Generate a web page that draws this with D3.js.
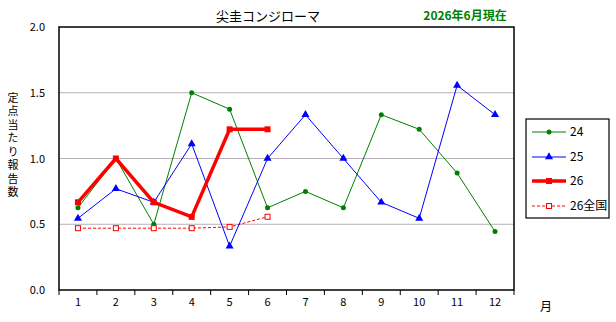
<!DOCTYPE html>
<html>
<head>
<meta charset="utf-8">
<script src="https://cdn.jsdelivr.net/npm/d3@7"></script>
<style>
  body { margin: 0; background: #fff; }
  svg { display: block; font-family: "Noto Sans CJK JP", "DejaVu Sans", sans-serif; }
</style>
</head>
<body>
<div id="chart"></div>
<script>
// data
const months = ["1", "2", "3", "4", "5", "6", "7", "8", "9", "10", "11", "12"];
const yTicks = [0, 0.5, 1.0, 1.5, 2.0];
const s24 = [0.625, 1.0, 0.5, 1.5, 1.375, 0.625, 0.75, 0.625, 1.333, 1.222, 0.889, 0.444];
const s25 = [0.545, 0.77, 0.667, 1.111, 0.333, 1.0, 1.333, 1.0, 0.667, 0.545, 1.556, 1.333];
const s26 = [0.667, 1.0, 0.667, 0.556, 1.222, 1.222];
const s26nat = [0.47, 0.47, 0.47, 0.47, 0.48, 0.557];
const seriesNames = ["24", "25", "26", "26全国"];

const width = 616, height = 322;
const plotL = 59, plotR = 514, plotT = 27, plotB = 290;

const svg = d3.select("#chart").append("svg")
    .attr("width", width)
    .attr("height", height);

const x = d3.scaleBand().domain(months).range([plotL, plotR]);
const y = d3.scaleLinear().domain([0, 2]).range([plotB, plotT]);
const cx = m => x(m) + x.bandwidth() / 2;

// grid lines
svg.append("g")
    .selectAll("line")
    .data(yTicks.filter(d => d > 0 && d < 2))
    .enter().append("line")
    .attr("x1", plotL).attr("x2", plotR)
    .attr("y1", d => y(d)).attr("y2", d => y(d))
    .attr("stroke", "#b8b0b8")
    .attr("stroke-width", 1);

// plot frame
svg.append("rect")
    .attr("x", plotL).attr("y", plotT)
    .attr("width", plotR - plotL).attr("height", plotB - plotT)
    .attr("fill", "none")
    .attr("stroke", "#000")
    .attr("stroke-width", 1.5);

// y axis labels
svg.append("g")
    .selectAll("text")
    .data(yTicks)
    .enter().append("text")
    .attr("x", plotL - 14)
    .attr("y", d => y(d) + 4)
    .attr("text-anchor", "end")
    .attr("font-size", 11)
    .text(d => d.toFixed(1));

// x axis ticks and labels
const xAxis = d3.axisBottom(x).tickSize(0).tickPadding(8);
const gx = svg.append("g").attr("transform", `translate(0,${plotB})`).call(xAxis);
gx.select(".domain").remove();
gx.selectAll("text").attr("font-size", 11).attr("fill", "#000")
    .attr("font-family", "\"Noto Sans CJK JP\", sans-serif");

svg.append("g")
    .selectAll("line")
    .data(d3.range(months.length + 1))
    .enter().append("line")
    .attr("x1", i => plotL + i * x.step()).attr("x2", i => plotL + i * x.step())
    .attr("y1", plotB).attr("y2", plotB + 5)
    .attr("stroke", "#000");

svg.append("text")
    .attr("x", 540).attr("y", 311)
    .attr("font-size", 12)
    .text("月");

// y axis title, vertical
svg.append("text")
    .attr("x", 13)
    .attr("y", 92)
    .style("writing-mode", "vertical-rl")
    .style("text-orientation", "upright")
    .style("letter-spacing", "2.5px")
    .attr("font-size", 11)
    .text("定点当たり報告数");

// titles
svg.append("text")
    .attr("x", 268).attr("y", 21)
    .attr("text-anchor", "middle")
    .attr("font-size", 13)
    .text("尖圭コンジローマ");

svg.append("text")
    .attr("x", 465).attr("y", 20)
    .attr("text-anchor", "middle")
    .attr("font-size", 12)
    .attr("font-weight", "bold")
    .attr("fill", "#008000")
    .text("2026年6月現在");

// lines
const line = d3.line().x((d, i) => cx(months[i])).y(d => y(d));

function drawSeries(data, color, widthPx, dash) {
    svg.append("path")
        .datum(data)
        .attr("d", line)
        .attr("fill", "none")
        .attr("stroke", color)
        .attr("stroke-width", widthPx)
        .attr("stroke-dasharray", dash || null);
}

drawSeries(s26nat, "#ff0000", 1, "3,2");
drawSeries(s24, "#008000", 1);
drawSeries(s25, "#0000ff", 1);
drawSeries(s26, "#ff0000", 3.5);

// markers
const tri = d3.symbol().type(d3.symbolTriangle).size(28);

svg.append("g").selectAll("circle")
    .data(s24).enter().append("circle")
    .attr("cx", (d, i) => cx(months[i])).attr("cy", d => y(d))
    .attr("r", 2.5).attr("fill", "#008000");

svg.append("g").selectAll("path")
    .data(s25).enter().append("path")
    .attr("d", tri)
    .attr("transform", (d, i) => `translate(${cx(months[i])},${y(d)})`)
    .attr("fill", "#0000ff");

svg.append("g").selectAll("rect")
    .data(s26).enter().append("rect")
    .attr("x", (d, i) => cx(months[i]) - 3).attr("y", d => y(d) - 3)
    .attr("width", 6).attr("height", 6)
    .attr("fill", "#ff0000");

svg.append("g").selectAll("rect")
    .data(s26nat).enter().append("rect")
    .attr("x", (d, i) => cx(months[i]) - 2.5).attr("y", d => y(d) - 2.5)
    .attr("width", 5).attr("height", 5)
    .attr("fill", "#fff").attr("stroke", "#ff0000").attr("stroke-width", 1);

// legend
const lg = svg.append("g");
lg.append("rect")
    .attr("x", 526).attr("y", 119)
    .attr("width", 83).attr("height", 99)
    .attr("fill", "#fff").attr("stroke", "#000").attr("stroke-width", 1.2);

const legendY = [132, 157, 181, 206];
const legendStyle = [
    { color: "#008000", w: 1, dash: null },
    { color: "#0000ff", w: 1, dash: null },
    { color: "#ff0000", w: 3.5, dash: null },
    { color: "#ff0000", w: 1, dash: "3,2" }
];

seriesNames.forEach((name, i) => {
    const yy = legendY[i];
    const st = legendStyle[i];
    lg.append("line")
        .attr("x1", 532).attr("x2", 566)
        .attr("y1", yy).attr("y2", yy)
        .attr("stroke", st.color).attr("stroke-width", st.w)
        .attr("stroke-dasharray", st.dash);
    if (i === 0) {
        lg.append("circle").attr("cx", 549).attr("cy", yy).attr("r", 2.5).attr("fill", st.color);
    } else if (i === 1) {
        lg.append("path").attr("d", tri).attr("transform", `translate(549,${yy})`).attr("fill", st.color);
    } else if (i === 2) {
        lg.append("rect").attr("x", 546).attr("y", yy - 3).attr("width", 6).attr("height", 6).attr("fill", st.color);
    } else {
        lg.append("rect").attr("x", 546.5).attr("y", yy - 2.5).attr("width", 5).attr("height", 5)
            .attr("fill", "#fff").attr("stroke", st.color);
    }
    lg.append("text")
        .attr("x", 570).attr("y", yy + 4)
        .attr("font-size", 12)
        .text(name);
});
</script>
</body>
</html>
